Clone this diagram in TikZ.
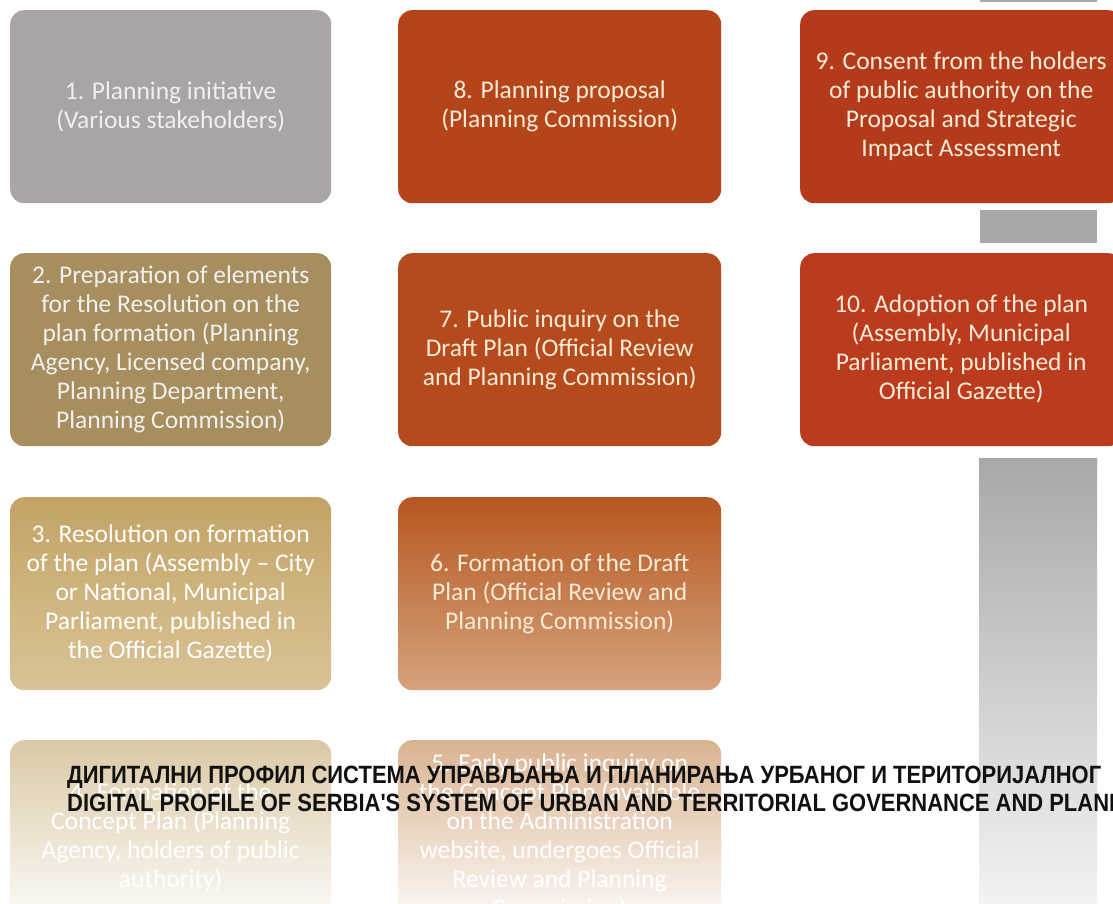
\documentclass[tikz,border=0pt]{standalone}
\usepackage{fontspec}
\setmainfont{Carlito}
\newfontfamily\hdrfont{Liberation Sans}
\usetikzlibrary{backgrounds}
\definecolor{cGray}{HTML}{A8A5A4}
\definecolor{cTan}{HTML}{A68E5F}
\definecolor{cTanA}{HTML}{C3A365}
\definecolor{cTanB}{HTML}{D9C497}
\definecolor{cTanC}{HTML}{DBC9A6}
\definecolor{cTanL}{HTML}{D6C193}
\definecolor{cOrE}{HTML}{B4451B}
\definecolor{cOrS}{HTML}{B54B1D}
\definecolor{cOrSixA}{HTML}{B6571F}
\definecolor{cOrSixB}{HTML}{D5A37E}
\definecolor{cOrL}{HTML}{D4A27D}
\definecolor{cOrF}{HTML}{D9B391}
\definecolor{cRedN}{HTML}{B33B1B}
\definecolor{cRedT}{HTML}{BB3B1E}
\definecolor{cBar}{HTML}{A8A8A8}
\definecolor{cBarL}{HTML}{F3F3F3}
\definecolor{txtCream}{HTML}{F7EBD5}
\definecolor{txtLight}{HTML}{F2F0EE}
\definecolor{hdrInk}{HTML}{111111}
\newlength\hdrw
\newcommand\hdrsel{\hdrfont\bfseries\fontsize{25}{28}\selectfont}
\tikzset{
  stepbox/.style={rounded corners=14pt, minimum width=321pt, minimum height=193pt,
    inner sep=0pt, align=center, anchor=north west,
    font=\fontsize{25.5}{29}\selectfont, text=txtCream},
  widebox/.style={stepbox, minimum width=323pt},
  hdrtext/.style={anchor=base west, inner sep=0pt, text=hdrInk, font=\hdrsel}
}
\begin{document}
\settowidth{\hdrw}{\hdrsel ДИГИТАЛНИ ПРОФИЛ СИСТЕМА УПРАВЉАЊА И ПЛАНИРАЊА УРБАНОГ И ТЕРИТОРИЈАЛНОГ}%
\pgfmathsetmacro\hfac{1034pt/\hdrw}%
\begin{tikzpicture}[x=1pt,y=-1pt]
\useasboundingbox (0,0) rectangle (1113,904);
\clip (0,0) rectangle (1113,904);
\fill[white] (0,0) rectangle (1113,904);
% decorative grey bars at right
\fill[cBar] (980,-8) rectangle (1097,2);
\fill[cBar] (980,210) rectangle (1097,243);
\shade[top color=cBar, bottom color=cBarL] (979,458) rectangle (1097,904);
% column 1
\node[stepbox, fill=cGray, text=txtLight] (b1) at (10,10)
  {1. Planning initiative\\(Various stakeholders)};
\node[stepbox, fill=cTan, text=txtLight] (b2) at (10,253)
  {2. Preparation of elements\\for the Resolution on the\\plan formation (Planning\\Agency, Licensed company,\\Planning Department,\\Planning Commission)};
\node[stepbox, top color=cTanA, bottom color=cTanB, text=white] (b3) at (10,497)
  {3. Resolution on formation\\of the plan (Assembly -- City\\or National, Municipal\\Parliament, published in\\the Official Gazette)};
\node[stepbox, top color=cTanC, bottom color=white, text=white] (b4) at (10,740)
  {4. Formation of the\\Concept Plan (Planning\\Agency, holders of public\\authority)};
% column 2
\node[widebox, fill=cOrE] (b8) at (398,10)
  {8. Planning proposal\\(Planning Commission)};
\node[widebox, fill=cOrS] (b7) at (398,253)
  {7. Public inquiry on the\\Draft Plan (Official Review\\and Planning Commission)};
\node[widebox, top color=cOrSixA, bottom color=cOrSixB] (b6) at (398,497)
  {6. Formation of the Draft\\Plan (Official Review and\\Planning Commission)};
\node[widebox, top color=cOrF, bottom color=white, text=white] (b5) at (398,740)
  {5. Early public inquiry on\\the Concept Plan (available\\on the Administration\\website, undergoes Official\\Review and Planning\\Commission)};
% column 3
\node[stepbox, minimum width=322pt, fill=cRedN] (b9) at (800,10)
  {9. Consent from the holders\\of public authority on the\\Proposal and Strategic\\Impact Assessment};
\node[stepbox, minimum width=322pt, fill=cRedT] (b10) at (800,253)
  {\raisebox{11pt}{\begin{tabular}{@{}c@{}}10. Adoption of the plan\\(Assembly, Municipal\\Parliament, published in\\Official Gazette)\end{tabular}}};
% connectors
\begin{scope}[on background layer]
\fill[cGray] ([xshift=48pt,yshift=10pt]b1.south west) rectangle ([xshift=76pt,yshift=-10pt]b2.north west);
\fill[cTan] ([xshift=48pt,yshift=10pt]b2.south west) rectangle ([xshift=76pt,yshift=-10pt]b3.north west);
\fill[cTanL] ([xshift=48pt,yshift=10pt]b3.south west) rectangle ([xshift=76pt,yshift=-10pt]b4.north west);
\fill[cOrE] ([xshift=7pt,yshift=10pt]b8.south west) rectangle ([xshift=37pt,yshift=-10pt]b7.north west);
\fill[cOrS] ([xshift=7pt,yshift=10pt]b7.south west) rectangle ([xshift=37pt,yshift=-10pt]b6.north west);
\fill[cOrL] ([xshift=7pt,yshift=10pt]b6.south west) rectangle ([xshift=37pt,yshift=-10pt]b5.north west);
\fill[cOrE] ([xshift=-10pt,yshift=-33pt]b8.north east) rectangle ([xshift=10pt,yshift=-60pt]b9.north west);
\fill[cRedN] ([xshift=13pt,yshift=10pt]b9.south west) rectangle ([xshift=42pt,yshift=-10pt]b10.north west);
\end{scope}
% header
\node[hdrtext] (h1) at (67,783) {\scalebox{\hfac}[1]{ДИГИТАЛНИ ПРОФИЛ СИСТЕМА УПРАВЉАЊА И ПЛАНИРАЊА УРБАНОГ И ТЕРИТОРИЈАЛНОГ}};
\node[hdrtext] (h2) at (67,811) {\scalebox{\hfac}[1]{DIGITAL PROFILE OF SERBIA\textquotesingle S SYSTEM OF URBAN AND TERRITORIAL GOVERNANCE AND PLANNING}};
\end{tikzpicture}
\end{document}
